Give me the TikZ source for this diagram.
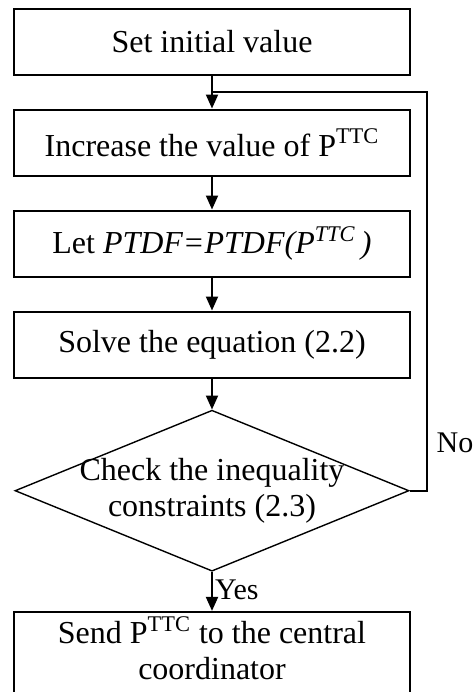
\documentclass[tikz,border=0pt]{standalone}
\usepackage{fontspec}
\setmainfont{Liberation Serif}
\usetikzlibrary{positioning,arrows.meta,shapes.geometric,calc}

\begin{document}
\begin{tikzpicture}[
  x=0.5pt, y=-0.5pt,
  font=\fontsize{16}{18}\selectfont,
  node distance=16.5pt,
  stepbox/.style={draw, line width=1pt, minimum width=198pt, minimum height=33pt, inner sep=0pt, align=center},
  check/.style={draw, diamond, line width=0.7pt, minimum width=197pt, minimum height=80.5pt, inner sep=0pt, aspect=2.45},
  arr/.style={-{Triangle[length=7pt,width=6pt]}, line width=1pt},
  lab/.style={inner sep=1pt, font=\fontsize{15}{17}\selectfont}
]
\clip (0,0) rectangle (473,692);

% ---------------- main column ----------------
\node[stepbox] (init) at (212,41.5) {Set initial value};
\node[stepbox, below=of init] (incr) {Increase the value of P\textsuperscript{TTC}};
\node[stepbox, below=of incr] (ptdf) {Let \textit{PTDF=PTDF(P\textsuperscript{TTC}\,)}};
\node[stepbox, below=of ptdf] (solve) {Solve the equation (2.2)};
\node[check, below=15.5pt of solve] (check) {};
\node[align=center, inner sep=0pt] (checktxt) at (check) {Check the inequality\\constraints (2.3)};
\node[stepbox, below=19.5pt of check, minimum height=48pt] (send) {};
\node[align=center, inner sep=0pt, anchor=north] (sendtxt) at ($(send.north)+(0,5)$)
   {Send P\textsuperscript{TTC} to the central\\coordinator};

\draw[arr] (init) -- (incr);
\draw[arr] (incr) -- (ptdf);
\draw[arr] (ptdf) -- (solve);
\draw[arr] (solve) -- (check);
\draw[arr] (check) -- node[lab, right, yshift=1pt] {Yes} (send);

% ---------------- loop back ----------------
\coordinate (join) at ($(init.south)!0.5!(incr.north)$);
\coordinate (back) at ($(check.east)+(17,0)$);
\draw[line width=1pt] (check.east) -- (back)
   |- node[lab, right, pos=0.06, xshift=3.5pt] {No} (join);

\end{tikzpicture}
\end{document}
